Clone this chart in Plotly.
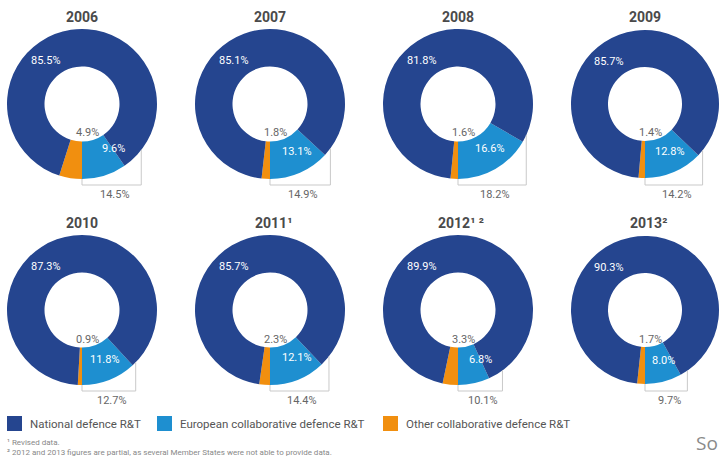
import math
import plotly.graph_objects as go

# ---- data ----
years = ["2006", "2007", "2008", "2009", "2010", "2011", "2012", "2013"]
year_notes = ["", "", "", "", "", "¹", "¹ ²", "²"]
national = [85.5, 85.1, 81.8, 85.7, 87.3, 85.7, 89.9, 90.3]
european = [9.6, 13.1, 16.6, 12.8, 11.8, 12.1, 6.8, 8.0]
other = [4.9, 1.8, 1.6, 1.4, 0.9, 2.3, 3.3, 1.7]
collab_total = [14.5, 14.9, 18.2, 14.2, 12.7, 14.4, 10.1, 9.7]
series_names = ["National defence R&T", "European collaborative defence R&T",
                "Other collaborative defence R&T"]
footnotes = ["¹ Revised data.",
             "² 2012 and 2013 figures are partial, as several Member States were not able to provide data."]

# ---- style ----
W, H = 719, 458
C_NAT, C_EUR, C_OTH = "#25458f", "#1e8fd0", "#f18f0f"
FONT = "Roboto"
col_cx = [82, 270, 458, 646]
row_cy = [104, 310]
R = 75
HOLE = 0.5


def px(x):
    return x / W


def py(y):
    return 1 - y / H


def label(x, y, text, size=11, color="#666666", xanchor="center", family=FONT):
    return dict(x=px(x), y=py(y), text=text, showarrow=False,
                xref="paper", yref="paper",
                xanchor=xanchor, yanchor="middle",
                font=dict(family=family, size=size, color=color))


fig = go.Figure()
shapes = []
annotations = []

for i, yr in enumerate(years):
    cx0 = col_cx[i % 4]
    cy = row_cy[i // 4]
    x0, x1 = max(cx0 - R, 0), min(cx0 + R, W)
    y0, y1 = cy - R, cy + R
    cx = (x0 + x1) / 2
    r = min(x1 - x0, y1 - y0) / 2
    fig.add_trace(go.Pie(
        values=[other[i], european[i], national[i]],
        labels=[series_names[2], series_names[1], series_names[0]],
        marker=dict(colors=[C_OTH, C_EUR, C_NAT], line=dict(width=0)),
        hole=HOLE, sort=False, direction="counterclockwise", rotation=180,
        textinfo="none", hoverinfo="label+percent", showlegend=False,
        domain=dict(x=[px(x0), px(x1)], y=[py(y1), py(y0)]),
    ))
    # title
    title = f"<b>{yr}</b>" + (f"<b>{year_notes[i]}</b>" if year_notes[i] else "")
    annotations.append(label(cx + (3 if year_notes[i] else 0), cy - 87, title,
                             size=14, color="#4a4a4a"))
    # national label (upper left)
    rm = r * 0.75
    a = math.radians(40)
    annotations.append(label(cx - rm * math.sin(a), cy - rm * math.cos(a),
                             f"{national[i]:.1f}%", color="white"))
    # european label (mid of wedge)
    mid = math.radians((other[i] + european[i] / 2) / 100 * 360)
    re = r * 0.73
    annotations.append(label(cx + re * math.sin(mid), cy + re * math.cos(mid),
                             f"{european[i]:.1f}%", color="white"))
    # other label (inside hole)
    annotations.append(label(cx + 5, cy + 29, f"{other[i]:.1f}%"))
    # bracket
    end = math.radians((other[i] + european[i]) / 100 * 360)
    ex = cx + r * math.sin(end)
    ey = cy + r * math.cos(end)
    by = cy + 81
    path = (f"M {px(cx)},{py(cy + r)} L {px(cx)},{py(by)} "
            f"L {px(ex)},{py(by)} L {px(ex)},{py(ey)}")
    shapes.append(dict(type="path", xref="paper", yref="paper", path=path,
                       fillcolor="rgba(0,0,0,0)",
                       line=dict(color="#c9c9c9", width=1)))
    annotations.append(label((cx + ex) / 2 + 3, cy + 90, f"{collab_total[i]:.1f}%"))

# legend
leg_x = [7, 157, 383]
leg_cols = [C_NAT, C_EUR, C_OTH]
for lx, col, name in zip(leg_x, leg_cols, series_names):
    shapes.append(dict(type="rect", xref="paper", yref="paper",
                       x0=px(lx), x1=px(lx + 15), y0=py(431), y1=py(416),
                       fillcolor=col, line=dict(width=0)))
    annotations.append(label(lx + 21, 424, name, size=11.5, color="#555555", xanchor="left"))

# footnotes
for k, fn in enumerate(footnotes):
    annotations.append(label(5, 442 + 10 * k, fn, size=8, color="#888888", xanchor="left"))

annotations.append(label(694, 443, "So", size=19, color="#8a8a8a", xanchor="left",
                         family="Open Sans"))

fig.update_layout(width=W, height=H, margin=dict(l=0, r=0, t=0, b=0),
                  paper_bgcolor="white", plot_bgcolor="white",
                  shapes=shapes, annotations=annotations, showlegend=False)

fig.write_html("out.html")
